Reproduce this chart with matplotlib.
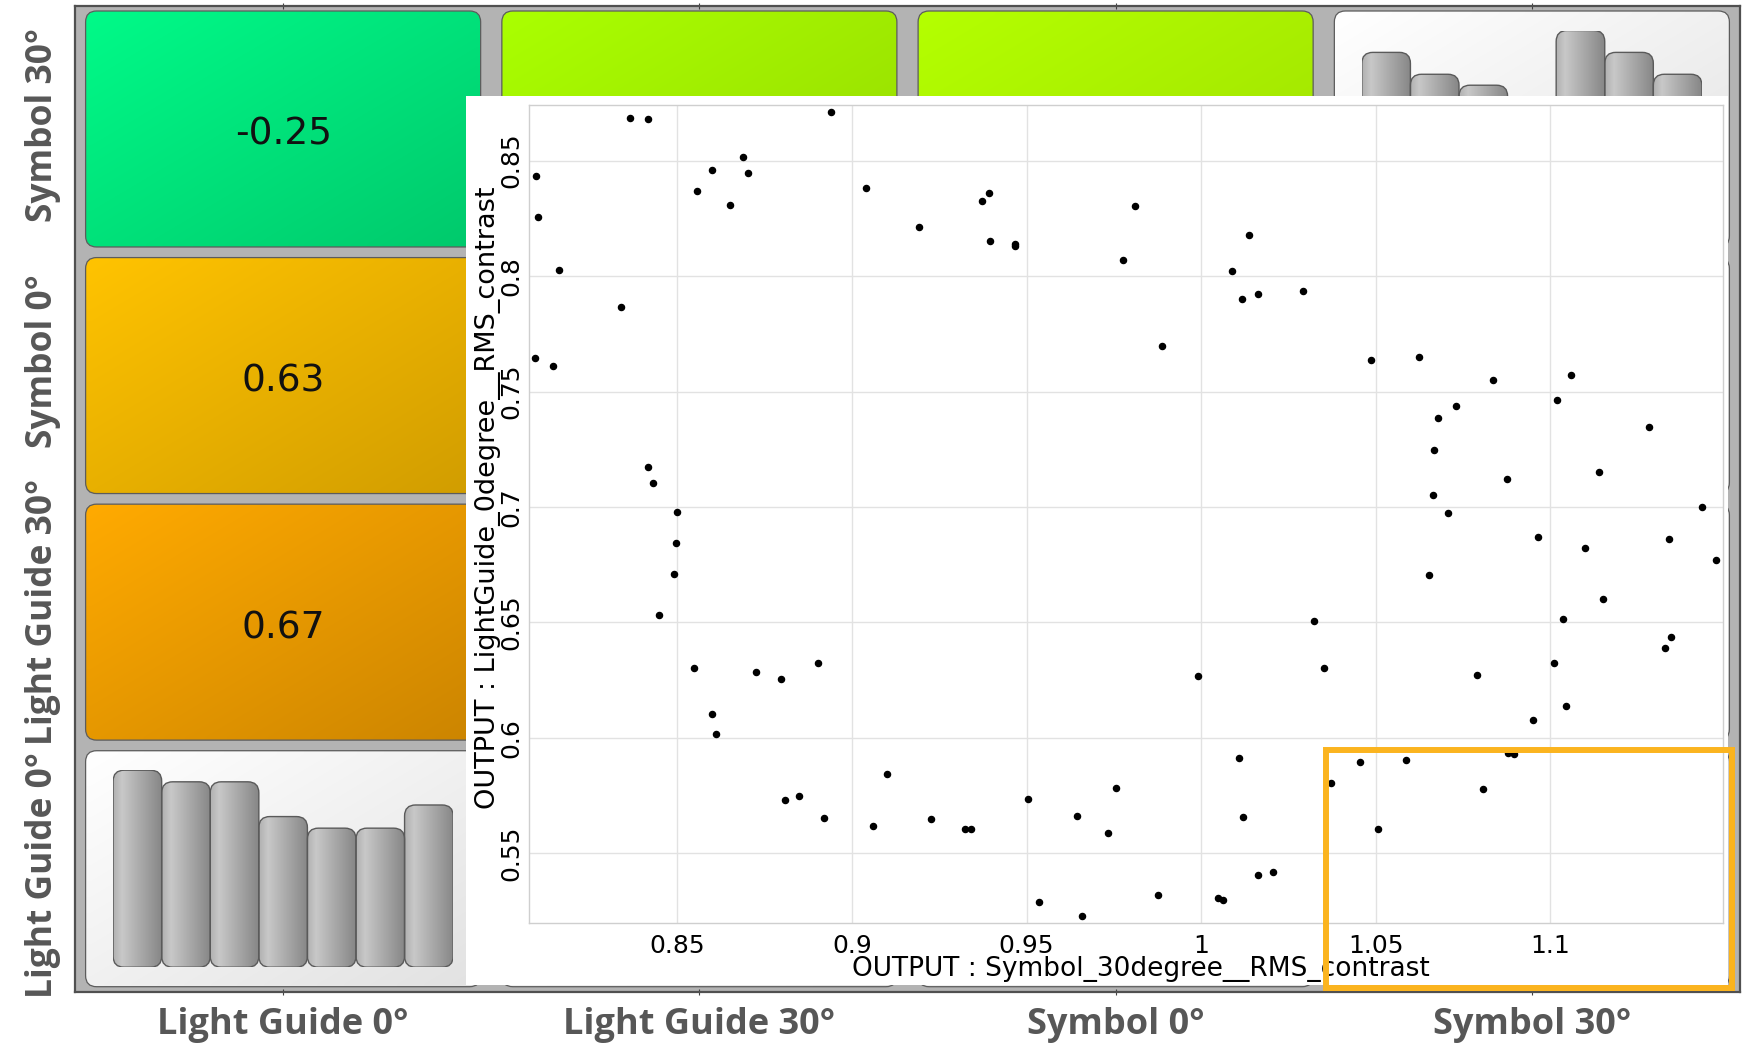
import numpy as np
import matplotlib
matplotlib.use("Agg")
import matplotlib.pyplot as plt
from matplotlib.patches import FancyBboxPatch, Rectangle
from matplotlib.colors import to_rgb

# ---- data -------------------------------------------------------------
row_labels = ['Symbol 30°', 'Symbol 0°', 'Light Guide 30°', 'Light Guide 0°']
col_labels = ['Light Guide 0°', 'Light Guide 30°', 'Symbol 0°', 'Symbol 30°']

# correlation values shown in the first column (rows 0..2)
corr_labels = ['-0.25', '0.63', '0.67']

# histogram counts on the two visible diagonal cells
hist_lightguide0 = [17, 16, 16, 13, 12, 12, 14]
hist_symbol30 = [16, 14, 13, 9, 18, 16, 14]

# zoomed scatter: Symbol_30degree (x) vs LightGuide_0degree (y)
sym30 = [0.8363, 0.8416, 0.8939, 0.8095, 0.8688, 0.8600, 0.8702, 0.8556, 0.8650, 0.9041,
         0.9192, 0.8101, 0.8160, 0.8338, 0.8093, 0.8145, 0.8416, 0.8430, 0.8498, 0.9393,
         0.9373, 0.9395, 0.9466, 0.9466, 0.9811, 0.9777, 0.9889, 1.0138, 1.0088, 1.0116,
         1.0164, 1.0293, 1.0486, 1.0624, 1.0837, 1.1059, 1.1019, 1.0729, 1.0678, 1.1283,
         1.0668, 1.1140, 1.0876, 1.0665, 1.0708, 1.1434, 0.8497, 0.8491, 0.8446, 0.8548,
         0.8725, 0.8796, 0.8902, 0.8599, 0.8612, 0.9101, 0.8808, 0.8849, 0.8921, 0.9060,
         0.9227, 1.0324, 0.9991, 1.0351, 1.0109, 1.0373, 0.9324, 0.9341, 0.9504, 0.9645,
         0.9733, 0.9755, 1.0121, 0.9536, 0.9659, 0.9877, 1.0048, 1.0063, 1.0164, 1.0207,
         1.0964, 1.1101, 1.1339, 1.1474, 1.0653, 1.1152, 1.1038, 1.1345, 1.1328, 1.1011,
         1.0790, 1.1046, 1.0951, 1.0455, 1.0588, 1.0879, 1.0895, 1.0808, 1.0507]
lg0 = [0.8684, 0.8679, 0.8712, 0.8434, 0.8515, 0.8461, 0.8448, 0.8367, 0.8309, 0.8382,
       0.8213, 0.8255, 0.8028, 0.7868, 0.7644, 0.7612, 0.7173, 0.7104, 0.6977, 0.8360,
       0.8324, 0.8151, 0.8140, 0.8129, 0.8302, 0.8070, 0.7697, 0.8178, 0.8021, 0.7900,
       0.7921, 0.7937, 0.7635, 0.7648, 0.7549, 0.7570, 0.7462, 0.7436, 0.7386, 0.7345,
       0.7246, 0.7153, 0.7120, 0.7053, 0.6976, 0.6998, 0.6845, 0.6710, 0.6532, 0.6303,
       0.6284, 0.6255, 0.6324, 0.6105, 0.6015, 0.5843, 0.5731, 0.5750, 0.5653, 0.5618,
       0.5650, 0.6508, 0.6269, 0.6301, 0.5914, 0.5806, 0.5605, 0.5604, 0.5734, 0.5660,
       0.5589, 0.5782, 0.5656, 0.5288, 0.5228, 0.5318, 0.5306, 0.5297, 0.5407, 0.5419,
       0.6870, 0.6821, 0.6860, 0.6769, 0.6707, 0.6600, 0.6514, 0.6436, 0.6388, 0.6326,
       0.6274, 0.6138, 0.6076, 0.5894, 0.5903, 0.5934, 0.5929, 0.5779, 0.5607]

x_ticks = [0.85, 0.9, 0.95, 1.0, 1.05, 1.1]
x_ticklabels = ['0.85', '0.9', '0.95', '1', '1.05', '1.1']
y_ticks = [0.55, 0.6, 0.65, 0.7, 0.75, 0.8, 0.85]
y_ticklabels = ['0.55', '0.6', '0.65', '0.7', '0.75', '0.8', '0.85']

# ---- styling ----------------------------------------------------------
W, H = 1744, 1046
LABEL_GRAY = '#575757'
cell_fill = {
    (0, 0): ('#00fa88', '#00c96c'),
    (0, 1): ('#aaff00', '#96d800'),
    (0, 2): ('#b4ff00', '#9fdf00'),
    (1, 0): ('#ffc300', '#d19d00'),
    (2, 0): ('#ffaa00', '#cc8500'),
}
white_fill = ('#ffffff', '#e2e2e2')
# left labels sit slightly off the row centres (pixel offsets)
row_label_shift = [-4, -14, -10, 6]


def fig_rect(x0, y0, x1, y1):
    # pixel box (top-left origin) -> figure fraction rect
    return [x0 / W, 1 - y1 / H, (x1 - x0) / W, (y1 - y0) / H]


def diag_gradient(c0, c1, n=40):
    u = np.linspace(0, 1, n)
    t = (u[None, :] + u[:, None]) / 2
    a, b = np.array(to_rgb(c0)), np.array(to_rgb(c1))
    return a * (1 - t[..., None]) + b * t[..., None]


def bar_gradient(n=40):
    stops = np.array([0.0, 0.18, 1.0])
    cols = np.array([to_rgb('#b2b2b2'), to_rgb('#c8c8c8'), to_rgb('#878787')])
    u = np.linspace(0, 1, n)
    row = np.stack([np.interp(u, stops, cols[:, k]) for k in range(3)], axis=-1)
    return np.repeat(row[None, :, :], 4, axis=0)


fig = plt.figure(figsize=(W / 100, H / 100), dpi=100)
fig.patch.set_facecolor('white')

# ---- matrix frame -----------------------------------------------------
FL, FT, FR, FB = 75, 5.7, 1740, 992
fw, fh = FR - FL, FB - FT
pitch_x, pitch_y = fw / 4, fh / 4
mx, my = 10.6, 5.3
cw, ch = pitch_x - 2 * mx, pitch_y - 2 * my

frame = fig.add_axes(fig_rect(FL, FT, FR, FB), zorder=0)
frame.set_facecolor('#b3b3b3')
for s in frame.spines.values():
    s.set_color('#505050')
    s.set_linewidth(1.6)

bold = dict(family='Open Sans', fontweight='bold', color=LABEL_GRAY)
frame.set_xticks([(i + 0.5) * pitch_x for i in range(4)])
frame.set_xticklabels(col_labels, fontsize=26, **bold)
frame.set_yticks([(i + 0.5) * pitch_y + d for i, d in enumerate(row_label_shift)])
frame.set_yticklabels(row_labels, rotation=90, va='center', fontsize=25.5, **bold)
frame.tick_params(axis='x', direction='inout', length=5, color='#404040', pad=8, top=True)
frame.tick_params(axis='y', length=0, pad=10)

hist_cells = {(3, 0): hist_lightguide0, (0, 3): hist_symbol30}

for r in range(4):
    for c in range(4):
        x0 = c * pitch_x + mx
        y0 = r * pitch_y + my
        light, dark = cell_fill.get((r, c), white_fill)
        box = FancyBboxPatch((x0, y0), cw, ch, boxstyle='round,pad=0,rounding_size=11',
                             facecolor='none', edgecolor='#5c5c5c', linewidth=0.9, zorder=3)
        frame.add_patch(box)
        im = frame.imshow(diag_gradient(light, dark), extent=(x0, x0 + cw, y0 + ch, y0),
                          origin='upper', aspect='auto', interpolation='bilinear', zorder=2)
        im.set_clip_path(box)
        if c == 0 and r < len(corr_labels):
            frame.text(x0 + cw / 2, y0 + ch / 2 + 6, corr_labels[r], ha='center', va='center',
                       fontsize=27, color='#111111', zorder=4)

frame.set_xlim(0, fw)
frame.set_ylim(fh, 0)

# ---- histograms on the diagonal ---------------------------------------
hx, hy = 27.5, 19.5
for (r, c), counts in hist_cells.items():
    x0 = FL + c * pitch_x + mx + hx
    y0 = FT + r * pitch_y + my + hy
    x1 = x0 + cw - 2 * hx
    y1 = y0 + ch - 2 * hy
    hax = fig.add_axes(fig_rect(x0, y0, x1, y1), zorder=1)
    hax.set_facecolor('none')
    hax.set_axis_off()
    n = len(counts)
    px_x = (x1 - x0) / n
    px_y = (y1 - y0) / max(counts)
    rad = 11 / px_x
    bars = hax.bar(np.arange(n), counts, width=1, align='edge')
    for rect in bars:
        bx, bw, bh = rect.get_x(), rect.get_width(), rect.get_height()
        rect.remove()
        rb = FancyBboxPatch((bx, 0), bw, bh, boxstyle=f'round,pad=0,rounding_size={rad}',
                            mutation_aspect=px_x / px_y, facecolor='none',
                            edgecolor='#5a5a5a', linewidth=1.0, zorder=3)
        hax.add_patch(rb)
        g = hax.imshow(bar_gradient(), extent=(bx, bx + bw, 0, bh), origin='upper',
                       aspect='auto', interpolation='bilinear', zorder=2)
        g.set_clip_path(rb)
    hax.set_xlim(0, n)
    hax.set_ylim(0, max(counts))

# ---- zoomed scatter panel ---------------------------------------------
panel = fig.add_axes(fig_rect(466, 96, 1728, 985), zorder=2)
panel.set_facecolor('white')
panel.set_axis_off()
panel.add_patch(Rectangle((0, 0), 1, 1, transform=panel.transAxes, facecolor='white',
                          edgecolor='none'))

ax = fig.add_axes(fig_rect(529, 105, 1722.7, 923.3), zorder=3)
ax.set_facecolor('white')
ax.plot(sym30, lg0, 'o', color='black', markersize=4.4, linestyle='none', zorder=3)
ax.set_xlim(0.8075, 1.1494)
ax.set_ylim(0.5197, 0.8741)
ax.set_xticks(x_ticks)
ax.set_xticklabels(x_ticklabels, fontsize=18)
ax.set_yticks(y_ticks)
ax.set_yticklabels(y_ticklabels, fontsize=18, rotation=90, va='center')
ax.tick_params(axis='x', length=0, pad=8)
ax.tick_params(axis='y', length=0, pad=4)
ax.grid(True, color='#e2e2e2', linewidth=1.0)
ax.set_axisbelow(True)
for s in ax.spines.values():
    s.set_color('#cfcfcf')
    s.set_linewidth(1.0)
ax.set_xlabel('OUTPUT : Symbol_30degree__RMS_contrast', fontsize=19)
ax.xaxis.set_label_coords(0.5127, -0.040)
ax.set_ylabel('OUTPUT : LightGuide_0degree__RMS_contrast', fontsize=19.5)
ax.yaxis.set_label_coords(-0.0235, 0.520)

# orange highlight box
hl = Rectangle((1326 / W, 1 - 987.5 / H), (1732 - 1326) / W, (987.5 - 749.7) / H,
               transform=fig.transFigure, facecolor='none', edgecolor='#fbb41f',
               linewidth=4.3, zorder=10)
fig.patches.append(hl)

fig.savefig('out.png', dpi=100)
